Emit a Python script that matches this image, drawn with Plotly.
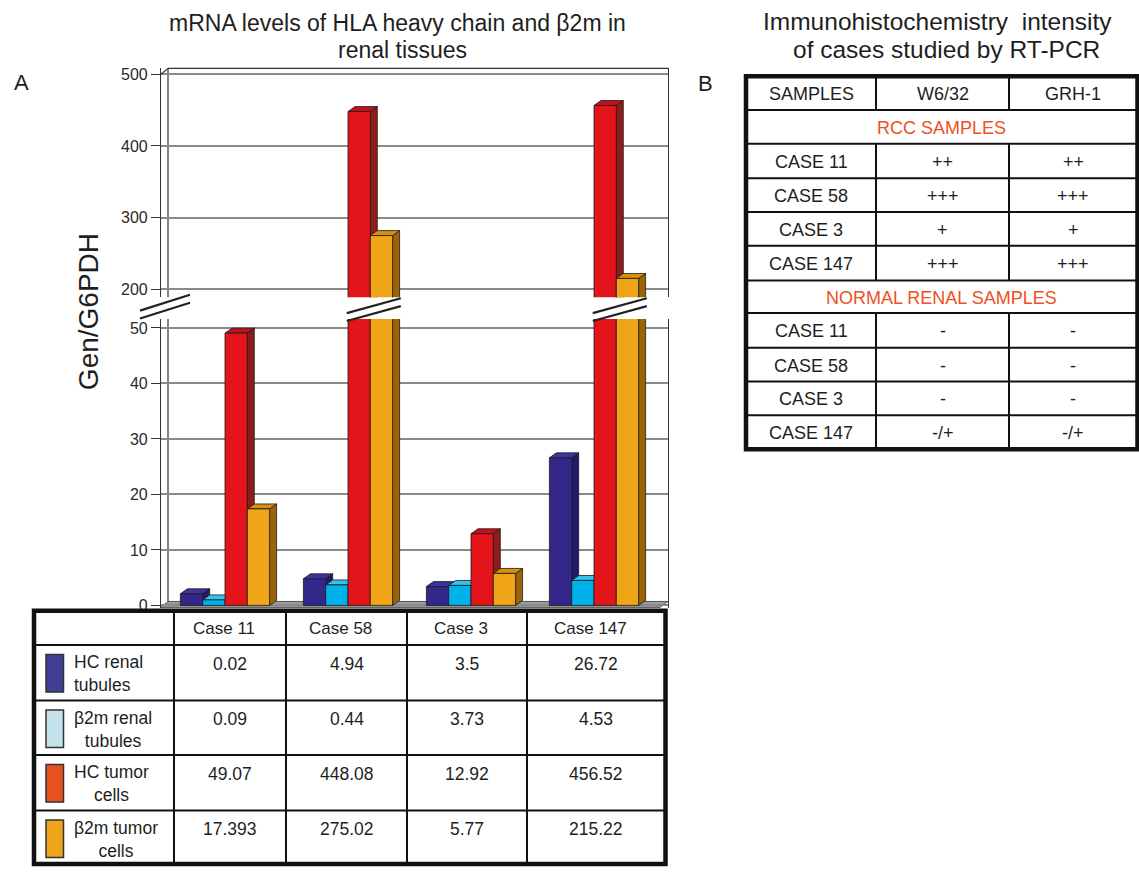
import plotly.graph_objects as go

# ---------------- data ----------------
cases = ["Case 11", "Case 58", "Case 3", "Case 147"]
series_labels = ["HC renal<br>tubules", "β2m renal<br>tubules", "HC tumor<br>cells", "β2m tumor<br>cells"]

# bar heights as drawn in the chart
hc_renal = [2.1, 4.8, 3.4, 26.6]
b2m_renal = [1.0, 3.7, 3.6, 4.5]
hc_tumor = [49.07, 448.08, 12.92, 456.52]
b2m_tumor = [17.393, 275.02, 5.77, 215.22]

# values printed in the data table
tbl_hc_renal = ["0.02", "4.94", "3.5", "26.72"]
tbl_b2m_renal = ["0.09", "0.44", "3.73", "4.53"]
tbl_hc_tumor = ["49.07", "448.08", "12.92", "456.52"]
tbl_b2m_tumor = ["17.393", "275.02", "5.77", "215.22"]

lower_ticks = [0, 10, 20, 30, 40, 50]
upper_ticks = [200, 300, 400, 500]

# panel B table
ihc_header = ["SAMPLES", "W6/32", "GRH-1"]
ihc_cases = ["CASE 11", "CASE 58", "CASE 3", "CASE 147"]
rcc_w632 = ["++", "+++", "+", "+++"]
rcc_grh1 = ["++", "+++", "+", "+++"]
normal_w632 = ["-", "-", "-", "-/+"]
normal_grh1 = ["-", "-", "-", "-/+"]

# ---------------- style ----------------
W, H = 1139, 872
FONT = "Liberation Sans, Arial, Helvetica, sans-serif"
TXT = "#1e1e1e"
front_cols = ["#33288a", "#00b2ea", "#e3141a", "#f0a417"]
side_cols = ["#221a66", "#0088bb", "#8e1c18", "#9b6408"]
top_cols = ["#3d33a0", "#30c4ee", "#c4101a", "#d8900e"]
swatch_cols = ["#3f3f98", "#c5e3ec", "#e8501f", "#f0a419"]
ORANGE = "#ee5024"


def px(x):
    return x / W


def py(y):
    return 1 - y / H


# geometry (pixels)
X_LEFT, X_RIGHT = 161, 668
X0C, XSTEP = 225, 123
X_DOM = [px(X_LEFT), px(X_RIGHT)]
X_RANGE = [(X_LEFT - X0C) / XSTEP, (X_RIGHT - X0C) / XSTEP]
LO_TOP, LO_BOT = 320, 612
LO_PPU = 5.6
LO_DOM = [py(LO_BOT), py(LO_TOP)]
LO_RANGE = [-(LO_BOT - 609) / LO_PPU, 50 + (329 - LO_TOP) / LO_PPU]
UP_TOP, UP_BOT = 67, 298
UP_PPU = 217 / 300
UP_DOM = [py(UP_BOT), py(UP_TOP)]
UP_RANGE = [200 - (UP_BOT - 290) / UP_PPU, 500 + (73 - UP_TOP) / UP_PPU]

BW = 22.3 / XSTEP
DX = 7 / XSTEP
DEPTH_PX = 5

fig = go.Figure()

series = [hc_renal, b2m_renal, hc_tumor, b2m_tumor]
panels = [("x", "y", DEPTH_PX / LO_PPU), ("x2", "y2", DEPTH_PX / UP_PPU)]
for xa, ya, dy in panels:
    for k, vals in enumerate(series):
        fx, fy, sx, sy, tx, ty = [], [], [], [], [], []
        for i, v in enumerate(vals):
            x0 = i + (k - 2) * BW
            x1 = x0 + BW
            fx += [x0, x1, x1, x0, x0, None]
            fy += [0, 0, v, v, 0, None]
            sx += [x1, x1 + DX, x1 + DX, x1, x1, None]
            sy += [0, dy, v + dy, v, 0, None]
            tx += [x0, x0 + DX, x1 + DX, x1, x0, None]
            ty += [v, v + dy, v + dy, v, v, None]
        for xs, ys, col in [(sx, sy, side_cols[k]), (tx, ty, top_cols[k]), (fx, fy, front_cols[k])]:
            fig.add_trace(go.Scatter(
                x=xs, y=ys, xaxis=xa, yaxis=ya, mode="lines", fill="toself",
                fillcolor=col, line=dict(color="#1a1a1a", width=0.8),
                hoverinfo="skip", showlegend=False))

axis_common = dict(showline=True, mirror=True, linecolor="#333", linewidth=1.2,
                   ticks="outside", ticklen=9, tickcolor="#333", tickwidth=1.2,
                   gridcolor="#8a8a8a", gridwidth=1.6, zeroline=False,
                   tickfont=dict(size=16, color="#2a2a2a", family=FONT))

fig.update_layout(
    width=W, height=H, margin=dict(l=0, r=0, t=0, b=0),
    paper_bgcolor="white", plot_bgcolor="white", showlegend=False,
    font=dict(family=FONT, color=TXT),
    xaxis=dict(domain=X_DOM, range=X_RANGE, showgrid=False, zeroline=False,
               showticklabels=False, ticks="", showline=False, anchor="y"),
    xaxis2=dict(domain=X_DOM, range=X_RANGE, matches="x", showgrid=False, zeroline=False,
                showticklabels=False, ticks="", showline=False, anchor="y2"),
    yaxis=dict(domain=LO_DOM, range=LO_RANGE, tickvals=lower_ticks, anchor="x", **axis_common),
    yaxis2=dict(domain=UP_DOM, range=UP_RANGE, tickvals=upper_ticks, anchor="x2", **axis_common),
)

shapes = []
ann = []


def pline(x0, y0, x1, y1, w=1.2, color="#333", layer="above"):
    shapes.append(dict(type="line", xref="paper", yref="paper",
                       x0=px(x0), y0=py(y0), x1=px(x1), y1=py(y1),
                       line=dict(color=color, width=w), layer=layer))


# 3D box details
pline(168, UP_TOP, X_RIGHT, UP_TOP, 1.4)
pline(X_LEFT, 73, 168, UP_TOP, 1.2)
pline(168, UP_TOP, 168, UP_BOT, 1.2, layer="between")
pline(168, LO_TOP, 168, 605, 1.2, layer="between")
shapes.append(dict(type="path", xref="paper", yref="paper",
                   path=f"M {px(X_LEFT)},{py(611)} L {px(660)},{py(611)} L {px(X_RIGHT)},{py(605)} L {px(168)},{py(605)} Z",
                   fillcolor="#9c9c9c", line=dict(color="#555", width=1), layer="between"))

# axis break marks
for cx, cy in [(165, 303.5)]:
    for off in (0, 8):
        pline(cx - 25, cy + 8 + off, cx + 25, cy - 8 + off, 2.2, "#222")
for i in range(len(cases)):
    if hc_tumor[i] > LO_RANGE[1]:
        cxd = i + BW + DX / 2
        hw = 27 / XSTEP
        for off in (0, 8):
            shapes.append(dict(type="line", xref="x", yref="paper",
                               x0=cxd - hw, y0=py(314 + off), x1=cxd + hw, y1=py(299 + off),
                               line=dict(color="#222", width=2.2)))


# titles and labels
def text(x, y, s, size, color=TXT, xanchor="center", yanchor="middle", align="center", angle=0):
    ann.append(dict(x=px(x), y=py(y), xref="paper", yref="paper", text=s,
                    showarrow=False, xanchor=xanchor, yanchor=yanchor, align=align,
                    textangle=angle,
                    font=dict(size=size, color=color, family=FONT)))


text(397, 21, "mRNA levels of HLA heavy chain and β2m in", 23)
text(402, 48, "renal tissues", 23)
text(21, 81, "A", 22)
text(88, 313, "Gen/G6PDH", 28, angle=-90)
text(937, 20, "Immunohistochemistry\u00a0\u00a0intensity", 24.5)
text(946, 48, "of cases studied by RT-PCR", 24.5)
text(705, 82, "B", 22)

# ---------------- table A ----------------
colsA = [34, 174, 286, 407, 527, 665.5]
rowsA = [614.5, 649, 705, 760, 816, 870]
shapes.append(dict(type="rect", xref="paper", yref="paper", x0=px(colsA[0]), x1=px(colsA[-1]),
                   y0=py(rowsA[0]), y1=py(rowsA[-1]), line=dict(color="#111", width=4.5)))
for c in colsA[1:-1]:
    pline(c, rowsA[0], c, rowsA[-1], 2, "#111")
for r in rowsA[1:-1]:
    pline(colsA[0], r, colsA[-1], r, 2, "#111")

for i, name in enumerate(cases):
    cx = (colsA[i + 1] + colsA[i + 2]) / 2
    text(cx - 6, 632, name, 17)
tbl_rows = [tbl_hc_renal, tbl_b2m_renal, tbl_hc_tumor, tbl_b2m_tumor]
for r, vals in enumerate(tbl_rows):
    top = rowsA[r + 1]
    shapes.append(dict(type="rect", xref="paper", yref="paper", x0=px(46), x1=px(63.5),
                       y0=py(top + 9.5), y1=py(top + 47.5), fillcolor=swatch_cols[r],
                       line=dict(color="#333", width=1.5)))
    text(72, top + 29, series_labels[r], 17.5, xanchor="left", align="left" if r == 0 else "center")
    for i, v in enumerate(vals):
        cx = (colsA[i + 1] + colsA[i + 2]) / 2
        text(cx, top + 19, v, 17.5)

# ---------------- table B ----------------
colsB = [746, 876, 1009, 1137.5]
rowsB = [75, 109, 143, 178, 212, 246, 281, 314, 349, 383, 417, 451.5]
shapes.append(dict(type="rect", xref="paper", yref="paper", x0=px(colsB[0]), x1=px(colsB[-1]),
                   y0=py(rowsB[0]), y1=py(rowsB[-1]), line=dict(color="#111", width=4.5)))
for r in rowsB[1:-1]:
    pline(colsB[0], r, colsB[-1], r, 2, "#111")
for c in colsB[1:-1]:
    for a, b in [(0, 1), (2, 6), (7, 11)]:
        pline(c, rowsB[a], c, rowsB[b], 2, "#111")


def rowmid(r):
    return (rowsB[r] + rowsB[r + 1]) / 2 + 1


for j, h in enumerate(ihc_header):
    text((colsB[j] + colsB[j + 1]) / 2, rowmid(0), h, 18)
text((colsB[0] + colsB[-1]) / 2, rowmid(1), "RCC SAMPLES", 18, color=ORANGE)
text((colsB[0] + colsB[-1]) / 2, rowmid(6), "NORMAL RENAL SAMPLES", 18, color=ORANGE)
for start, w632, grh1 in [(2, rcc_w632, rcc_grh1), (7, normal_w632, normal_grh1)]:
    for i, cname in enumerate(ihc_cases):
        r = start + i
        text((colsB[0] + colsB[1]) / 2, rowmid(r), cname, 18)
        text((colsB[1] + colsB[2]) / 2, rowmid(r), w632[i], 18)
        text((colsB[2] + colsB[3]) / 2, rowmid(r), grh1[i], 18)

fig.update_layout(shapes=shapes, annotations=ann)
fig.write_html("out.html")
